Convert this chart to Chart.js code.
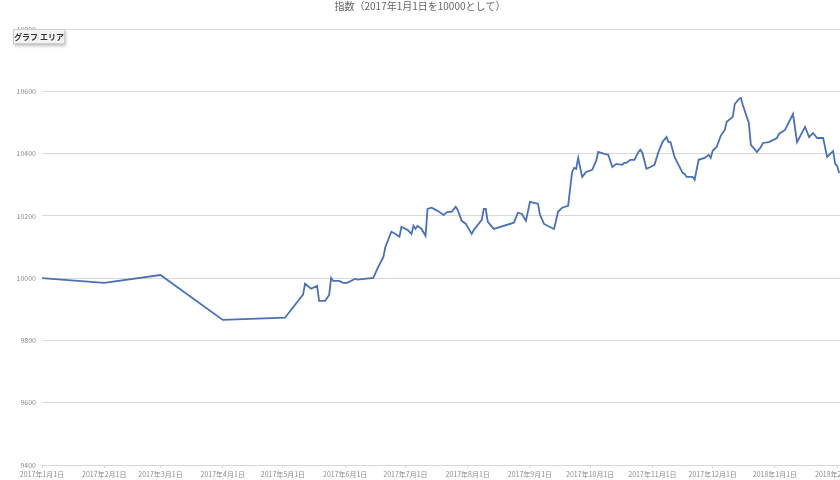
<!DOCTYPE html>
<html>
<head>
<meta charset="utf-8">
<script src="https://cdn.jsdelivr.net/npm/chart.js@4.4.1/dist/chart.umd.min.js"></script>
<style>
  html, body { margin: 0; padding: 0; background: #fff; overflow: hidden; }
  #wrap { position: relative; width: 840px; height: 480px; }
  #tip {
    position: absolute; left: 13px; top: 29px; width: 50px; height: 13px;
    background: #f3f3f3; border: 1px solid #cfcfcf; box-shadow: 1px 2px 3px rgba(0,0,0,0.25);
    font: bold 8px "Noto Sans CJK JP", sans-serif; color: #333; line-height: 13px; text-align: center;
  }
</style>
</head>
<body>
<div id="wrap">
  <canvas id="indexChart" width="840" height="480"></canvas>
  <div id="tip">グラフ エリア</div>
</div>
<script>
// Index values (2017-01-01 = 10000)
const dates = [
  '2017-01-01', '2017-02-01', '2017-03-01', '2017-04-01', '2017-05-02', '2017-05-11', '2017-05-12',
  '2017-05-15', '2017-05-18', '2017-05-19', '2017-05-22', '2017-05-24', '2017-05-25', '2017-05-26',
  '2017-05-29', '2017-05-31', '2017-06-02', '2017-06-06', '2017-06-07', '2017-06-15', '2017-06-17',
  '2017-06-20', '2017-06-21', '2017-06-22', '2017-06-24', '2017-06-26', '2017-06-28', '2017-06-29',
  '2017-07-01', '2017-07-02', '2017-07-04', '2017-07-05', '2017-07-06', '2017-07-07', '2017-07-09',
  '2017-07-11', '2017-07-12', '2017-07-14', '2017-07-17', '2017-07-20', '2017-07-22', '2017-07-24',
  '2017-07-26', '2017-07-27', '2017-07-29', '2017-07-31', '2017-08-03', '2017-08-04', '2017-08-08',
  '2017-08-09', '2017-08-10', '2017-08-11', '2017-08-14', '2017-08-24', '2017-08-26', '2017-08-28',
  '2017-08-30', '2017-09-01', '2017-09-03', '2017-09-05', '2017-09-06', '2017-09-08', '2017-09-13',
  '2017-09-15', '2017-09-17', '2017-09-20', '2017-09-22', '2017-09-23', '2017-09-24', '2017-09-25',
  '2017-09-27', '2017-09-29', '2017-10-02', '2017-10-04', '2017-10-05', '2017-10-08', '2017-10-10',
  '2017-10-12', '2017-10-14', '2017-10-17', '2017-10-18', '2017-10-19', '2017-10-21', '2017-10-23',
  '2017-10-25', '2017-10-26', '2017-10-27', '2017-10-29', '2017-10-31', '2017-11-02', '2017-11-04',
  '2017-11-06', '2017-11-08', '2017-11-09', '2017-11-10', '2017-11-12', '2017-11-16', '2017-11-17',
  '2017-11-18', '2017-11-21', '2017-11-22', '2017-11-24', '2017-11-27', '2017-11-29', '2017-11-30',
  '2017-12-01', '2017-12-03', '2017-12-05', '2017-12-07', '2017-12-08', '2017-12-11', '2017-12-12',
  '2017-12-14', '2017-12-15', '2017-12-16', '2017-12-19', '2017-12-20', '2017-12-21', '2017-12-23',
  '2017-12-25', '2017-12-26', '2017-12-29', '2018-01-02', '2018-01-03', '2018-01-06', '2018-01-10',
  '2018-01-12', '2018-01-16', '2018-01-18', '2018-01-20', '2018-01-22', '2018-01-25', '2018-01-27',
  '2018-01-30', '2018-01-31', '2018-02-01', '2018-02-02'
];
const indexValues = [
  10000, 9985, 10010, 9866, 9873, 9947, 9982,
  9966, 9975, 9927, 9927, 9946, 10001, 9991,
  9991, 9985, 9985, 9998, 9995, 10001, 10030,
  10068, 10100, 10117, 10149, 10142, 10133, 10165,
  10158, 10155, 10142, 10168, 10158, 10168, 10158,
  10136, 10222, 10226, 10216, 10203, 10213, 10213,
  10229, 10219, 10184, 10175, 10142, 10155, 10187,
  10222, 10222, 10181, 10158, 10178, 10210, 10206,
  10184, 10245, 10242, 10239, 10203, 10174, 10158,
  10213, 10226, 10232, 10341, 10354, 10351, 10386,
  10325, 10341, 10348, 10377, 10405, 10399, 10396,
  10357, 10367, 10364, 10370, 10370, 10380, 10380,
  10405, 10412, 10402, 10351, 10357, 10364, 10405,
  10437, 10453, 10437, 10437, 10389, 10338, 10335,
  10325, 10325, 10316, 10380, 10386, 10396, 10386,
  10409, 10421, 10457, 10476, 10502, 10518, 10559,
  10575, 10579, 10556, 10498, 10428, 10421, 10405,
  10421, 10434, 10437, 10450, 10463, 10476, 10527,
  10437, 10486, 10453, 10466, 10450, 10450, 10389,
  10408, 10367, 10360, 10338
];

// x axis ticks (month starts)
const tickDates = [
  '2017-01-01', '2017-02-01', '2017-03-01', '2017-04-01', '2017-05-01', '2017-06-01', '2017-07-01',
  '2017-08-01', '2017-09-01', '2017-10-01', '2017-11-01', '2017-12-01', '2018-01-01', '2018-02-01'
];
const tickLabels = [
  '2017年1月1日', '2017年2月1日', '2017年3月1日', '2017年4月1日', '2017年5月1日', '2017年6月1日', '2017年7月1日',
  '2017年8月1日', '2017年9月1日', '2017年10月1日', '2017年11月1日', '2017年12月1日', '2018年1月1日', '2018年2月1日'
];

const chartTitle = '指数（2017年1月1日を10000として）';
const fontFamily = '"Noto Sans CJK JP", "Noto Sans", sans-serif';

// days since 2017-01-01
function dayOf(s) {
  const p = s.split('-').map(Number);
  return (Date.UTC(p[0], p[1] - 1, p[2]) - Date.UTC(2017, 0, 1)) / 86400000;
}

const tickDays = tickDates.map(dayOf);
const points = dates.map((d, i) => ({ x: dayOf(d), y: indexValues[i] }));

const ctx = document.getElementById('indexChart').getContext('2d');
const indexChart = new Chart(ctx, {
  type: 'line',
  data: {
    datasets: [{
      data: points,
      borderColor: '#4A71B6',
      borderWidth: 1.8,
      pointRadius: 0,
      tension: 0,
      fill: false
    }]
  },
  options: {
    responsive: false,
    animation: false,
    layout: { padding: 0, autoPadding: false },
    plugins: {
      legend: { display: false },
      tooltip: { enabled: false },
      title: {
        display: true,
        text: chartTitle,
        color: '#666',
        font: { family: fontFamily, size: 10, weight: 'normal' },
        padding: { top: 0, bottom: 17 }
      }
    },
    scales: {
      x: {
        type: 'linear',
        min: 0,
        max: 397.4,
        afterBuildTicks: function (axis) {
          axis.ticks = tickDays.map(v => ({ value: v }));
        },
        afterFit: function (axis) {
          // plot runs to the right edge, last label gets cut like the original
          axis.height = 15;
          axis.paddingLeft = 0;
          axis.paddingRight = 0;
        },
        grid: { drawOnChartArea: false, drawTicks: true, tickLength: 3, color: '#d9d9d9' },
        border: { display: false },
        ticks: {
          autoSkip: false,
          maxRotation: 0,
          padding: 2,
          color: '#8c8c8c',
          font: { family: fontFamily, size: 7 },
          callback: function (value) {
            const i = tickDays.indexOf(value);
            return i >= 0 ? tickLabels[i] : '';
          }
        }
      },
      y: {
        min: 9400,
        max: 10800,
        afterFit: function (axis) {
          axis.width = 42;
          axis.paddingTop = 0;
          axis.paddingBottom = 0;
        },
        grid: { color: '#d9d9d9', drawTicks: false },
        border: { display: false },
        ticks: {
          stepSize: 200,
          padding: 6,
          color: '#8c8c8c',
          font: { family: fontFamily, size: 7 },
          callback: function (value) { return String(value); }
        }
      }
    }
  }
});
</script>
</body>
</html>
